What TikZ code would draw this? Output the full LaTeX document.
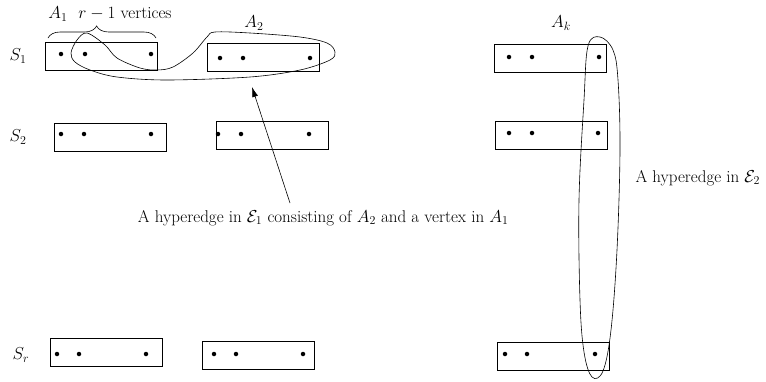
\documentclass[tikz,border=0pt]{standalone}
\usepackage{amsmath,amssymb}
\usepackage{tikz}
\usetikzlibrary{arrows.meta,decorations.pathreplacing}

\begin{document}
\begin{tikzpicture}[x=1pt,y=-1pt,
  font=\fontsize{17}{20}\selectfont,
  part/.style={draw,line width=0.6pt,minimum width=112pt,minimum height=28pt,inner sep=0pt},
  vtx/.style={circle,fill=black,minimum size=4.5pt,inner sep=0pt},
  hedge/.style={line width=0.6pt},
  arr/.style={-{Latex[length=10pt,width=6pt]},line width=0.6pt}
]
\useasboundingbox (0,0) rectangle (766,381);

% row labels
\node (s1) at (18,56) {$S_1$};
\node (s2) at (18,137) {$S_2$};
\node (sr) at (21,355) {$S_r$};

% parts
\node[part] (b11) at (101,56) {};
\node[part] (b12) at (263.5,57) {};
\node[part] (b1k) at (550,58) {};
\node[part] (b21) at (110,137.5) {};
\node[part] (b22) at (272,135) {};
\node[part] (b2k) at (551,135.5) {};
\node[part] (br1) at (106,352.5) {};
\node[part] (br2) at (258,355) {};
\node[part] (brk) at (553,356) {};

% vertices
\foreach \n/\x/\y in {a/61/54,b/85/54,c/151/54, d/220/58,e/243/58,f/310/58,
  g/509/57,h/532/57,i/599/57, j/61/134,k/84/134,l/151/134,
  m/218/134,n/241/134,o/309/134, p/509/133,q/532/133,r/598/133,
  s/57/354,t/79/354,u/146/354, v/214/354,w/236/354,x/303/354,
  y/505/354,z/527/354,zz/595/354}
  \node[vtx] (v\n) at (\x,\y) {};

% part names
\node (a1) at (58,14) {$A_1$};
\node (a1txt) at (125,14) {$r-1$\ vertices};
\node (a2) at (254,23) {$A_2$};
\node (ak) at (561,23) {$A_k$};
\draw[decorate,decoration={brace,amplitude=12pt,aspect=0.45},line width=0.6pt]
  (48,38) -- (156,38);

% hyperedge in E_1
\draw[hedge] plot[smooth cycle,tension=0.55] coordinates {
  (87,33) (105,45) (117,58) (140,68) (157,70) (173,67) (193,53) (207,37)
  (215,32) (250,33) (300,37) (327,43) (335,52) (330,60) (300,70) (250,77)
  (167,80) (117,77) (90,70) (75,62) (71,53) (77,40)};

% hyperedge in E_2
\draw[hedge] plot[smooth cycle,tension=0.6] coordinates {
  (600,37) (588,46) (584,100) (579,200) (580,300) (584,352) (592,377)
  (603,371) (611,330) (617,250) (620,150) (618,80) (613,50)};

% labels
\node[anchor=east] (e1lab) at (512,218)
  {A hyperedge in $\mathcal{E}_1$ consisting of $A_2$ and a vertex in $A_1$};
\node[anchor=west] (e2lab) at (632,178) {A hyperedge in $\mathcal{E}_2$};
\coordinate (tail) at (290,203);
\coordinate (tip) at (252,87);
\draw[arr] (tail) -- (tip);
\end{tikzpicture}
\end{document}
